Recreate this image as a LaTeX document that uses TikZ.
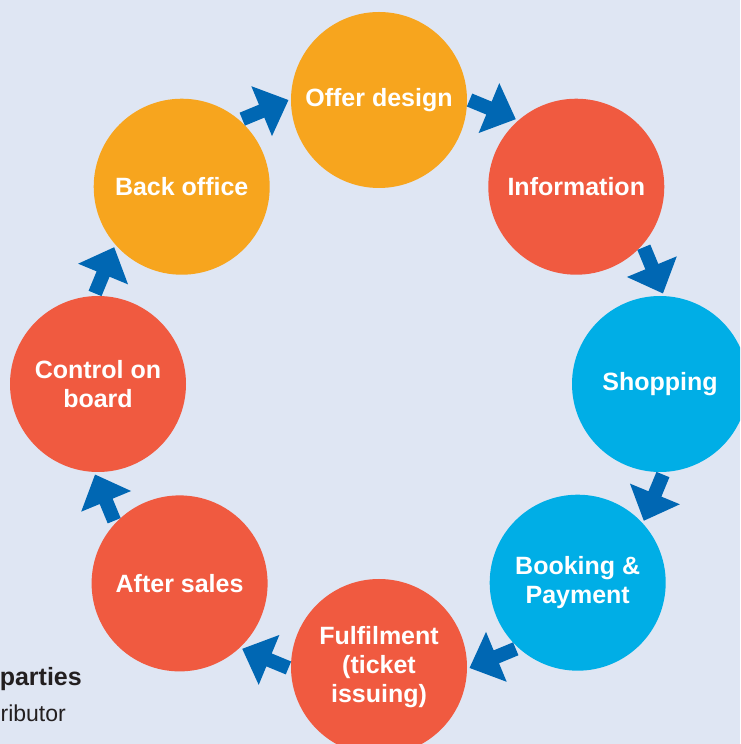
\documentclass[tikz,border=0pt]{standalone}
\usepackage{fontspec}
\setmainfont{Liberation Sans}
\usetikzlibrary{calc}
\definecolor{bgcol}{HTML}{DFE6F3}
\definecolor{orangec}{HTML}{F7A51E}
\definecolor{redc}{HTML}{F05A40}
\definecolor{cyanc}{HTML}{00AEE6}
\definecolor{arrowblue}{HTML}{0067B3}
\definecolor{darktext}{HTML}{231F20}
\tikzset{
  stage/.style={circle, minimum size=176pt, inner sep=0pt, text=white, align=center,
    font=\bfseries\fontsize{25}{29}\selectfont},
  flowarrow/.pic={\fill[arrowblue] (-25,-7) -- (-4,-7) -- (-4,-27) -- (25,0) -- (-4,27) -- (-4,7) -- (-25,7) -- cycle;},
  sidetext/.style={inner sep=0pt, text=darktext, font=\fontsize{23}{27}\selectfont}
}
\begin{document}
\begin{tikzpicture}[x=1pt,y=1pt]
\useasboundingbox (0,0) rectangle (740,744);
\clip (0,0) rectangle (740,744);
\fill[bgcol] (0,0) rectangle (740,744);
\coordinate (C) at (379,360);
\node[stage, fill=orangec] (offer) at ($(C)+(90:284)$) {Offer design};
\node[stage, fill=redc] (info) at ($(C)+(45:279)$) {Information};
\node[stage, fill=cyanc] (shop) at ($(C)+(0:281)$) {Shopping};
\node[stage, fill=cyanc] (book) at ($(C)+(-45:281)$) {Booking \&\\Payment};
\node[stage, fill=redc] (fulfil) at ($(C)+(-90:283)$) {Fulfilment\\(ticket\\issuing)};
\node[stage, fill=redc] (after) at ($(C)+(-135:282)$) {After sales};
\node[stage, fill=redc] (control) at ($(C)+(180:281)$) {Control on\\board};
\node[stage, fill=orangec] (back) at ($(C)+(135:279)$) {Back office};
\foreach \a in {112.5,67.5,22.5,-22.5,-67.5,-112.5,-157.5,157.5}{
  \pic[rotate=\a-90] at ($(C)+(\a:297)$) {flowarrow};
}
\node[sidetext, anchor=base east, font=\bfseries\fontsize{25}{29}\selectfont] (parties) at (82,58) {parties};
\node[sidetext, anchor=base east] (distr) at (66,22) {ributor};
\end{tikzpicture}
\end{document}
